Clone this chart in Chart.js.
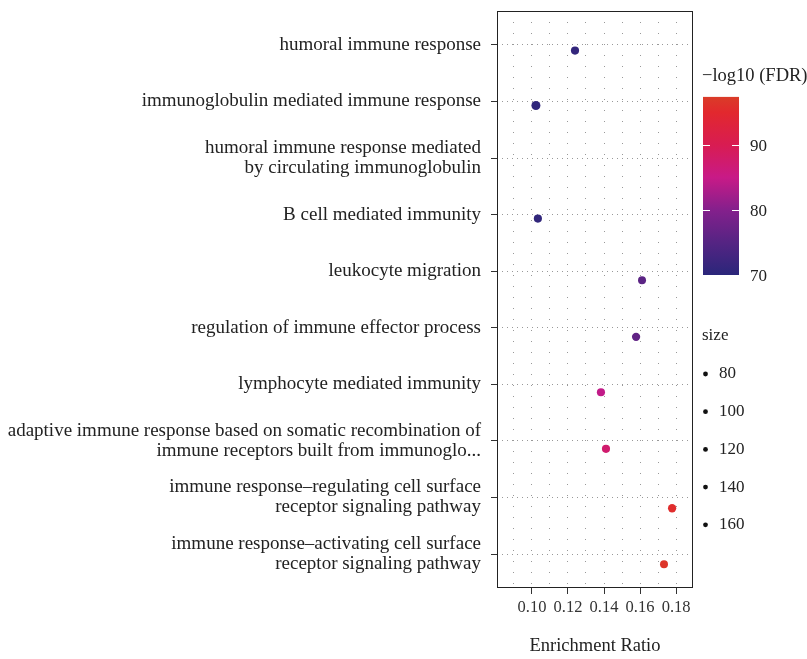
<!DOCTYPE html>
<html>
<head>
<meta charset="utf-8">
<script src="https://cdn.jsdelivr.net/npm/chart.js@4"></script>
<style>
  body { margin: 0; background: #fff; }
  #chart { display: block; }
</style>
</head>
<body>
<canvas id="chart" width="807" height="659"></canvas>
<script>
// GO terms, top to bottom
var terms = [
  ["humoral immune response"],
  ["immunoglobulin mediated immune response"],
  ["humoral immune response mediated", "by circulating immunoglobulin"],
  ["B cell mediated immunity"],
  ["leukocyte migration"],
  ["regulation of immune effector process"],
  ["lymphocyte mediated immunity"],
  ["adaptive immune response based on somatic recombination of", "immune receptors built from immunoglo..."],
  ["immune response\u2013regulating cell surface", "receptor signaling pathway"],
  ["immune response\u2013activating cell surface", "receptor signaling pathway"]
];
var enrichmentRatio = [0.1239, 0.1022, null, 0.1033, 0.1611, 0.1578, 0.1383, 0.1411, 0.1778, 0.1733];
var fdr = [71.0, 70.6, null, 70.8, 75.6, 76.3, 84.5, 87.5, 95.6, 96.6];
var geneSize = [110, 122, null, 110, 108, 112, 110, 110, 112, 108];
// small vertical jitter as seen in the picture (category units)
var jitter = [0.10, 0.07, 0, 0.07, 0.16, 0.16, 0.14, 0.14, 0.19, 0.18];

var colorTicks = [70, 80, 90];
var sizeTicks = [80, 100, 120, 140, 160];
var fdrMin = 70, fdrMax = 97.4;

var serif = "'Liberation Serif', 'DejaVu Serif', serif";

// colour ramp for -log10(FDR)
var ramp = [
  [70, [42, 38, 122]],
  [75, [85, 36, 131]],
  [80, [132, 32, 140]],
  [85, [200, 26, 135]],
  [90, [216, 28, 82]],
  [95, [226, 40, 46]],
  [97.4, [218, 60, 40]]
];
function fdrColor(v) {
  for (var i = 1; i < ramp.length; i++) {
    if (v <= ramp[i][0] || i == ramp.length - 1) {
      var a = ramp[i - 1], b = ramp[i];
      var t = Math.max(0, Math.min(1, (v - a[0]) / (b[0] - a[0])));
      var c = a[1].map(function (x, k) { return Math.round(x + (b[1][k] - x) * t); });
      return 'rgb(' + c.join(',') + ')';
    }
  }
}

var points = [];
var colors = [];
var radii = [];
for (var i = 0; i < terms.length; i++) {
  if (enrichmentRatio[i] == null) continue;
  points.push({ x: enrichmentRatio[i], y: i + 1 + jitter[i] });
  colors.push(fdrColor(fdr[i]));
  radii.push(geneSize[i] / 27);
}

// legends + full panel frame
var legendPlugin = {
  id: 'legends',
  afterDraw: function (chart) {
    var ctx = chart.ctx;
    var a = chart.chartArea;
    ctx.save();
    ctx.strokeStyle = '#222';
    ctx.lineWidth = 1;
    ctx.strokeRect(a.left + 0.5, a.top + 0.5, a.right - a.left - 1, a.bottom - a.top - 1);

    ctx.fillStyle = '#222';
    ctx.font = '18.5px ' + serif;
    ctx.textBaseline = 'middle';
    ctx.textAlign = 'left';
    ctx.fillText('\u2212log10 (FDR)', 702, 76);

    // colour bar
    var barX = 703, barW = 36, yAt70 = 275, pxPerUnit = 6.5;
    var yTop = yAt70 - (fdrMax - fdrMin) * pxPerUnit;
    var g = ctx.createLinearGradient(0, yAt70, 0, yTop);
    ramp.forEach(function (s) {
      g.addColorStop((s[0] - fdrMin) / (fdrMax - fdrMin), 'rgb(' + s[1].join(',') + ')');
    });
    ctx.fillStyle = g;
    ctx.fillRect(barX, yTop, barW, yAt70 - yTop);
    ctx.strokeStyle = '#fff';
    ctx.lineWidth = 1;
    ctx.font = '17px ' + serif;
    colorTicks.forEach(function (v) {
      var y = Math.round(yAt70 - (v - fdrMin) * pxPerUnit) + 0.5;
      if (v > fdrMin) {
        ctx.beginPath();
        ctx.moveTo(barX, y); ctx.lineTo(barX + 7, y);
        ctx.moveTo(barX + barW - 7, y); ctx.lineTo(barX + barW, y);
        ctx.stroke();
      }
      ctx.fillStyle = '#222';
      ctx.fillText(String(v), 750, y + 1);
    });

    // size legend
    ctx.fillText('size', 702, 336);
    sizeTicks.forEach(function (s, k) {
      var y = 374 + k * 37.7;
      ctx.beginPath();
      ctx.arc(705.5, y, 2.4, 0, Math.PI * 2);
      ctx.fillStyle = '#111';
      ctx.fill();
      ctx.fillStyle = '#222';
      ctx.fillText(String(s), 719, y);
    });
    ctx.restore();
  }
};

new Chart(document.getElementById('chart'), {
  type: 'scatter',
  data: {
    datasets: [{
      data: points,
      backgroundColor: colors,
      borderWidth: 0,
      pointRadius: radii,
      pointHoverRadius: radii
    }]
  },
  options: {
    responsive: false,
    animation: false,
    events: [],
    layout: { padding: { left: 0, right: 114, top: 11, bottom: 0 } },
    plugins: { legend: { display: false }, tooltip: { enabled: false } },
    scales: {
      x: {
        type: 'linear',
        min: 0.0806,
        max: 0.1894,
        afterFit: function (scale) {
          scale.height = 71;
          scale.paddingLeft = 0;
          scale.paddingRight = 0;
        },
        grid: {
          color: '#999',
          lineWidth: 1,
          tickLength: 6,
          tickColor: function (c) {
            return Math.round(c.tick.value * 100) % 2 === 0 ? '#333' : 'rgba(0,0,0,0)';
          }
        },
        border: { display: false, dash: [1, 10] },
        ticks: {
          stepSize: 0.01,
          includeBounds: false,
          autoSkip: false,
          maxRotation: 0,
          padding: 4,
          color: '#333',
          font: { family: serif, size: 16.5 },
          callback: function (v) {
            return Math.round(v * 100) % 2 === 0 ? v.toFixed(2) : '';
          }
        },
        title: {
          display: true,
          text: 'Enrichment Ratio',
          color: '#222',
          font: { family: serif, size: 18.5 },
          padding: { top: 0, bottom: 2 }
        }
      },
      y: {
        type: 'linear',
        reverse: true,
        min: 0.4,
        max: 10.6,
        afterFit: function (scale) {
          scale.width = 497;
          scale.paddingTop = 0;
          scale.paddingBottom = 0;
        },
        grid: { color: '#999', lineWidth: 1, tickLength: 6, tickColor: '#333' },
        border: { display: false, dash: [1, 4] },
        ticks: {
          stepSize: 1,
          includeBounds: false,
          autoSkip: false,
          padding: 10,
          color: '#222',
          font: { family: serif, size: 19, lineHeight: '20px' },
          callback: function (v) { return terms[v - 1]; }
        }
      }
    }
  },
  plugins: [legendPlugin]
});
</script>
</body>
</html>
